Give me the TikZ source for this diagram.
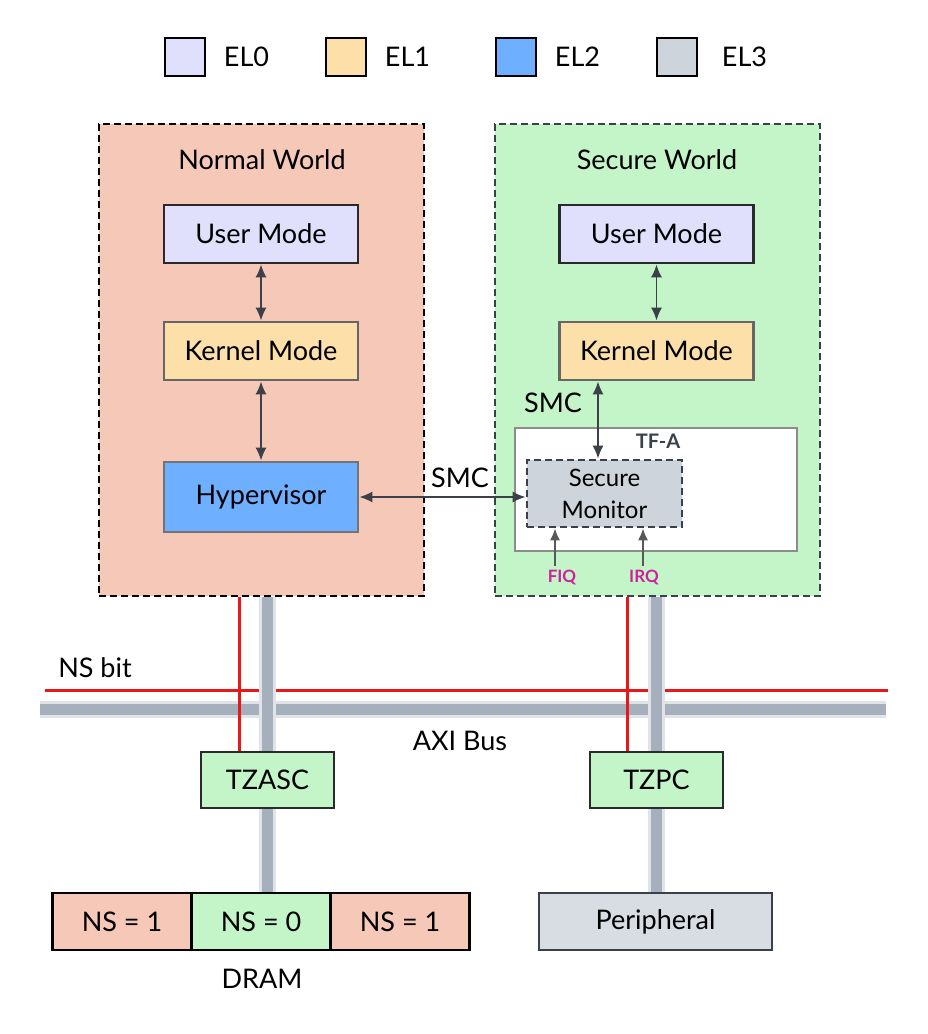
\documentclass[tikz,border=0pt]{standalone}
\usepackage{fontspec}
\setmainfont{Lato}
\usetikzlibrary{arrows.meta}
\definecolor{nwFill}{HTML}{F6C8B8}
\definecolor{swFill}{HTML}{C3F5C8}
\definecolor{elZero}{HTML}{E0E0FC}
\definecolor{elOne}{HTML}{FDDFAA}
\definecolor{elTwo}{HTML}{6EB0FF}
\definecolor{elThree}{HTML}{CED4DC}
\definecolor{boxLine}{HTML}{3C4048}
\definecolor{modeLine}{HTML}{2A2A2A}
\definecolor{busGray}{HTML}{A6B0BC}
\definecolor{busEdge}{HTML}{E0E3E8}
\definecolor{nsRed}{HTML}{E81818}
\definecolor{irqPink}{HTML}{D020A0}
\tikzset{
  world/.style={draw, dash pattern=on 7pt off 4pt, line width=2.6pt, minimum width=325pt, minimum height=472pt, inner sep=0pt},
  mode/.style={draw=modeLine, line width=2.6pt, minimum width=194pt, minimum height=58pt, inner sep=0pt, lbl},
  key/.style={draw=black, line width=2.8pt, minimum width=40pt, minimum height=38pt, inner sep=0pt},
  cell/.style={draw=black, line width=2.8pt, minimum width=139pt, minimum height=57pt, inner sep=0pt, lbl},
  gate/.style={draw=modeLine, line width=2.4pt, fill=swFill, minimum width=133pt, minimum height=56pt, inner sep=0pt, lbl},
  link/.style={{Latex[length=13pt,width=11pt]}-{Latex[length=13pt,width=11pt]}, line width=1.9pt, boxLine},
  irq/.style={-{Latex[length=12pt,width=10pt]}, line width=1.9pt, black!65},
  bus/.style={draw=busEdge, double=busGray, double distance=11pt, line width=3pt},
  nsline/.style={nsRed, line width=3pt},
  lbl/.style={font=\fontsize{27}{30}\selectfont},
  tag/.style={font=\bfseries\fontsize{17}{20}\selectfont, irqPink},
}
\begin{document}
\begin{tikzpicture}[x=1pt, y=-1pt]
  \fill[white] (0,0) rectangle (928,1034);
  \useasboundingbox (0,0) rectangle (928,1034);
  % legend
  \node[key, fill=elZero]  (k0) at (185,57) {};
  \node[lbl, anchor=west] (t0) at ([xshift=14pt]k0.east) {EL0};
  \node[key, fill=elOne]   (k1) at (346,57) {};
  \node[lbl, anchor=west] (t1) at ([xshift=14pt]k1.east) {EL1};
  \node[key, fill=elTwo]   (k2) at (516,57) {};
  \node[lbl, anchor=west] (t2) at ([xshift=14pt]k2.east) {EL2};
  \node[key, fill=elThree] (k3) at (677,57) {};
  \node[lbl, anchor=west] (t3) at ([xshift=20pt]k3.east) {EL3};
  % worlds
  \node[world, fill=nwFill, draw=black] (nw) at (261.5,360) {};
  \node[world, fill=swFill, draw=boxLine] (sw) at (657.5,360) {};
  \node[lbl] (nwt) at (262,160) {Normal World};
  \node[lbl] (swt) at (657,160) {Secure World};
  \node[mode, fill=elZero] (ul) at (261,234) {User Mode};
  \node[mode, fill=elOne, draw=black!60]  (kl) at (261,351) {Kernel Mode};
  \node[mode, fill=elTwo, draw=black!55, minimum height=70pt] (hyp) at (261,497) {Hypervisor};
  \node[mode, fill=elZero] (ur) at (656.5,234) {User Mode};
  \node[mode, fill=elOne, draw=black!60]  (kr) at (656.5,351) {Kernel Mode};
  \node[draw=black!45, line width=1.8pt, fill=white, minimum width=282pt, minimum height=123pt, inner sep=0pt] (tfa) at (656,489.5) {};
  \node[font=\bfseries\fontsize{20}{22}\selectfont, text=boxLine] (tfat) at (658,441) {TF-A};
  \node[draw=boxLine, fill=elThree, dash pattern=on 7pt off 4pt, line width=2.6pt, minimum width=155pt, minimum height=67pt, inner sep=0pt, align=center, font=\fontsize{24}{32}\selectfont] (mon) at (604.5,493.5) {Secure\\Monitor};
  \node[lbl] (smcr) at (553,403) {SMC};
  \node[lbl] (smcl) at (460,478) {SMC};
  \node[tag] (fiq) at (562,577) {FIQ};
  \node[tag] (irqt) at (644,577) {IRQ};
  % arrows
  \draw[link] (ul) -- (kl);
  \draw[link] (kl) -- (hyp);
  \draw[link] (ur) -- (kr);
  \draw[link] ([xshift=-58.5pt]kr.south) -- ([xshift=-6.5pt]mon.north);
  \draw[link] (hyp.east) -- (hyp.east -| mon.west);
  \draw[irq] ([xshift=-7pt]fiq.north) -- ([xshift=-7pt]fiq.north |- mon.south);
  \draw[irq] ([xshift=-1pt]irqt.north) -- ([xshift=-1pt]irqt.north |- mon.south);
  % bottom
  \node[gate] (tzasc) at (267.5,780) {TZASC};
  \node[gate] (tzpc) at (656.5,780) {TZPC};
  \node[cell, fill=nwFill] (d1) at (122,921.5) {NS = 1};
  \node[cell, fill=swFill] (d2) at (261,921.5) {NS = 0};
  \node[cell, fill=nwFill] (d3) at (400,921.5) {NS = 1};
  \node[lbl] (dram) at (262,979) {DRAM};
  \node[draw=boxLine, line width=2.4pt, fill=elThree!80, minimum width=233pt, minimum height=57pt, inner sep=0pt, lbl] (per) at (655.5,921.5) {Peripheral};
  \coordinate (nsL) at (45,690);
  \coordinate (nsR) at (888,690);
  \coordinate (busL) at (40,709);
  \coordinate (busR) at (886,709);
  \node[lbl] (nsb) at (95,668) {NS bit};
  \node[lbl] (axi) at (460,741) {AXI Bus};
  \draw[nsline] (nsL) -- (nsR);
  \draw[bus] (busL) -- (busR);
  \draw[bus] (tzasc.north) -- (tzasc.north |- nw.south);
  \draw[bus] (tzpc.north) -- (tzpc.north |- sw.south);
  \draw[bus] (tzasc.south) -- (tzasc.south |- d2.north);
  \draw[bus] (tzpc.south) -- (tzpc.south |- per.north);
  \draw[nsline] ([xshift=-28.5pt]tzasc.north) -- ([xshift=-28.5pt]tzasc.north |- nw.south);
  \draw[nsline] ([xshift=-29.5pt]tzpc.north) -- ([xshift=-29.5pt]tzpc.north |- sw.south);
\end{tikzpicture}
\end{document}
